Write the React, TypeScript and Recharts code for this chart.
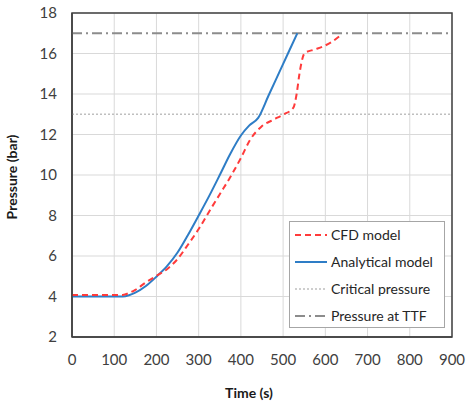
import React from 'react';
import { LineChart, Line, XAxis, YAxis, CartesianGrid, ReferenceArea } from 'recharts';

const analyticalT = [0, 60, 120, 135, 150, 175, 200, 225, 250, 275, 300, 325, 350, 375, 400, 420, 441, 465, 490, 515, 533.6];
const analyticalP = [4.0, 4.0, 4.0, 4.06, 4.19, 4.52, 4.98, 5.5, 6.17, 7.05, 8.0, 8.97, 10.0, 11.05, 11.95, 12.45, 12.82, 13.9, 15.03, 16.16, 17.0];

const cfdT = [0, 60, 120, 135, 150, 175, 200, 225, 250, 275, 300, 325, 350, 375, 400, 422, 449, 477, 500, 524, 532, 538, 544, 551, 575, 595, 615, 635];
const cfdP = [4.08, 4.08, 4.08, 4.17, 4.33, 4.7, 5.02, 5.35, 5.85, 6.57, 7.33, 8.2, 9.05, 9.9, 10.84, 11.74, 12.4, 12.73, 12.98, 13.31, 14.0, 14.9, 15.6, 16.02, 16.2, 16.35, 16.57, 16.88];

const criticalT = [0, 900];
const criticalP = [13, 13];
const ttfT = [0, 900];
const ttfP = [17, 17];

const xTicks = [0, 100, 200, 300, 400, 500, 600, 700, 800, 900];
const yTicks = [2, 4, 6, 8, 10, 12, 14, 16, 18];

const seriesNames = ['CFD model', 'Analytical model', 'Critical pressure', 'Pressure at TTF'];

const zip = (ts: number[], ps: number[]) => ts.map((t, i) => ({ t, p: ps[i] }));

const cfdData = zip(cfdT, cfdP);
const analyticalData = zip(analyticalT, analyticalP);
const criticalData = zip(criticalT, criticalP);
const ttfData = zip(ttfT, ttfP);

const FONT = 'Lato, "Open Sans", sans-serif';

const styles = [
  { stroke: '#FF3B3B', dash: '6 4', width: 2 },
  { stroke: '#2E7DC6', dash: undefined, width: 2 },
  { stroke: '#BFBFBF', dash: '2 2', width: 1.5 },
  { stroke: '#8C8C8C', dash: '10 4 2 4', width: 2 },
];

export default function App() {
  return (
    <div style={{ position: 'absolute', left: 0, top: 0, width: 470, height: 403, background: '#fff', fontFamily: FONT }}>
      <LineChart width={470} height={403} margin={{ top: 13, right: 18, left: 0, bottom: 0 }}>
        <CartesianGrid stroke="#D9D9D9" strokeWidth={1} />
        <XAxis
          type="number"
          dataKey="t"
          domain={[0, 900]}
          ticks={xTicks}
          allowDataOverflow
          height={66}
          tickLine={false}
          tickSize={0}
          tickMargin={17}
          axisLine={{ stroke: '#404040', strokeWidth: 1.5 }}
          tick={{ fill: '#404040', fontSize: 15, fontFamily: FONT }}
          label={{ value: 'Time (s)', position: 'insideBottom', offset: 5, dx: -13, fill: '#1a1a1a', fontSize: 14, fontWeight: 700, fontFamily: FONT }}
        />
        <YAxis
          type="number"
          dataKey="p"
          domain={[2, 18]}
          ticks={yTicks}
          allowDataOverflow
          width={72}
          tickLine={false}
          tickSize={0}
          tickMargin={15}
          axisLine={{ stroke: '#404040', strokeWidth: 1.5 }}
          tick={{ fill: '#404040', fontSize: 15, fontFamily: FONT }}
          label={{ value: 'Pressure (bar)', angle: -90, position: 'insideLeft', offset: 12, dy: 2, fill: '#1a1a1a', fontSize: 14, fontWeight: 700, fontFamily: FONT, style: { textAnchor: 'middle' } }}
        />
        <ReferenceArea x1={0} x2={900} y1={2} y2={18} fill="none" stroke="#404040" strokeWidth={1.5} />
        <Line data={criticalData} dataKey="p" name={seriesNames[2]} type="linear" stroke={styles[2].stroke} strokeDasharray={styles[2].dash} strokeWidth={styles[2].width} dot={false} isAnimationActive={false} />
        <Line data={ttfData} dataKey="p" name={seriesNames[3]} type="linear" stroke={styles[3].stroke} strokeDasharray={styles[3].dash} strokeWidth={styles[3].width} dot={false} isAnimationActive={false} />
        <Line data={analyticalData} dataKey="p" name={seriesNames[1]} type="monotone" stroke={styles[1].stroke} strokeWidth={styles[1].width} dot={false} isAnimationActive={false} />
        <Line data={cfdData} dataKey="p" name={seriesNames[0]} type="monotone" stroke={styles[0].stroke} strokeDasharray={styles[0].dash} strokeWidth={styles[0].width} dot={false} isAnimationActive={false} />
      </LineChart>
      <div
        style={{
          position: 'absolute',
          left: 289,
          top: 221,
          width: 156,
          height: 107,
          border: '1px solid #A6A6A6',
          background: '#fff',
          boxSizing: 'border-box',
          paddingTop: 0,
        }}
      >
        {seriesNames.map((n, i) => (
          <div key={n} style={{ display: 'flex', alignItems: 'center', height: 27, marginTop: i === 0 ? -1 : 0 }}>
            <svg width={36} height={10} style={{ marginLeft: 4 }}>
              <line x1={1} y1={5} x2={33} y2={5} stroke={styles[i].stroke} strokeWidth={styles[i].width} strokeDasharray={styles[i].dash} />
            </svg>
            <span style={{ fontSize: 14, color: '#262626', marginLeft: 1, whiteSpace: 'nowrap' }}>{n}</span>
          </div>
        ))}
      </div>
    </div>
  );
}
